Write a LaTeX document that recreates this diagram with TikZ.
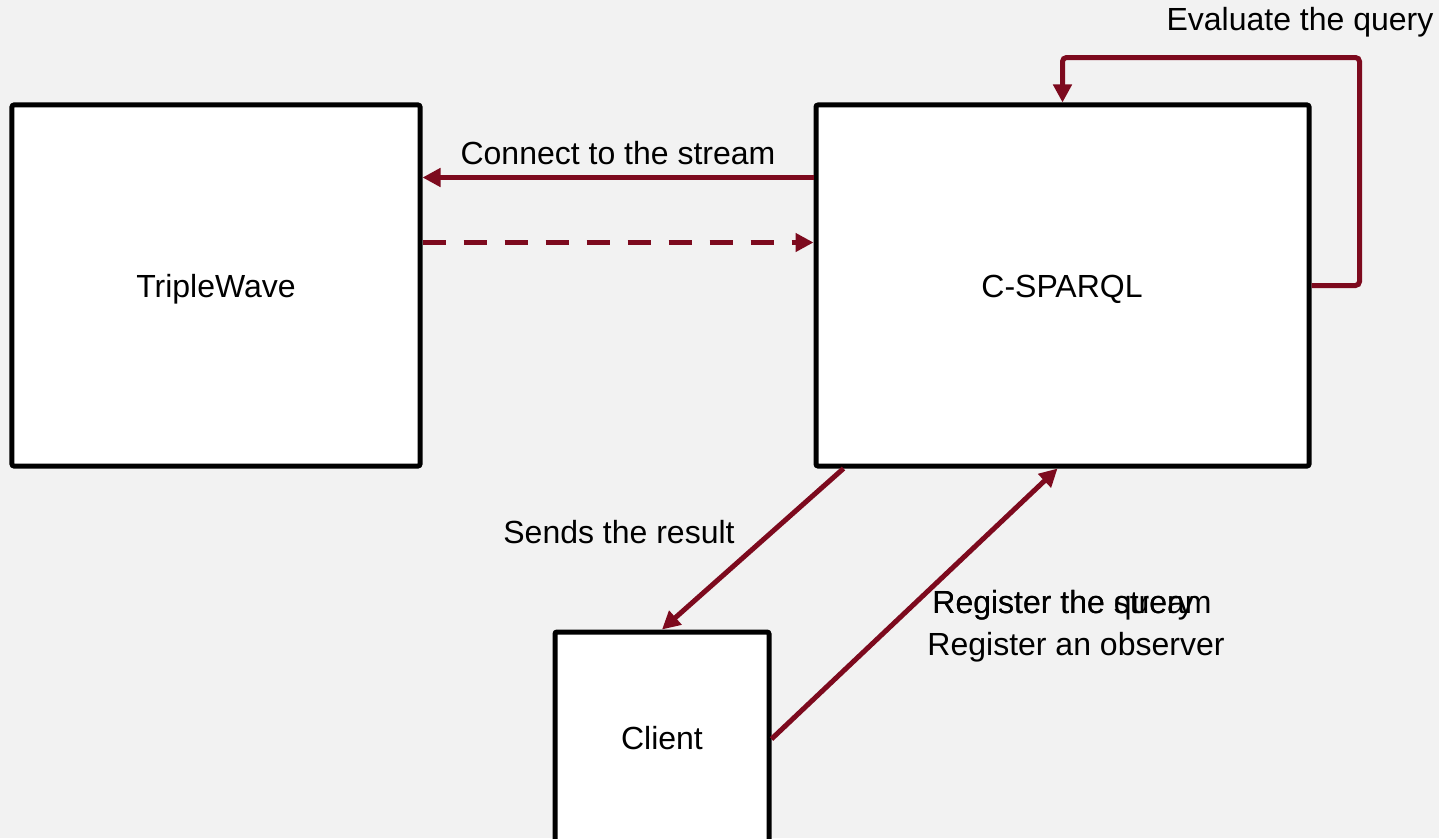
\documentclass[tikz,border=0pt]{standalone}
\usepackage{fontspec}
\setmainfont{Liberation Sans}
\usepackage{tikz}
\usetikzlibrary{arrows.meta,positioning,calc}
\definecolor{wine}{HTML}{7D0A1E}
\definecolor{paper}{HTML}{F2F2F2}

\begin{document}
\begin{tikzpicture}[
    x=0.5bp,y=-0.5bp,
    font=\fontsize{16bp}{19bp}\selectfont,
    block/.style={draw=black,fill=white,line width=2.5bp,rounded corners=1bp,inner sep=0pt},
    arrow/.style={-{Triangle[length=9bp,width=9bp]},line width=2.5bp,draw=wine},
    note/.style={inner sep=1bp}
  ]
    \fill[paper] (0,0) rectangle (1439,838);
    \useasboundingbox (0,0) rectangle (1439,838);
    \begin{scope}
    \clip (0,0) rectangle (1439,838);
    \node[block,minimum width=204bp,minimum height=180.5bp] (triplewave) at (216,285.5) {};
    \node[block,minimum width=246.5bp,minimum height=180.5bp] (csparql) at (1062.5,285.5) {};
    \node[block,minimum width=107bp,minimum height=107bp] (client) at (662,739) {};
    \end{scope}
    \node (triplewavelabel) at (216,289) {TripleWave};
    \node (csparqllabel) at (1062,289) {C-SPARQL};
    \node (clientlabel) at (662,738) {Client};
    % stream connection
    \draw[arrow] ($(csparql.north west)+(0,75)$) coordinate (c1) -- (c1 -| triplewave.east)
      node[midway,above=4bp,note] (connect) {Connect to the stream};
    \draw[arrow,dash pattern=on 11.5bp off 9bp] ($(triplewave.north east)+(0,140)$) coordinate (d1) -- (d1 -| csparql.west);
    % query loop
    \draw[arrow,rounded corners=2bp] (csparql.east) -- ++(48,0) -- ++(0,-228) -| (csparql.north);
    \node[note] (evaluate) at (1300,22) {Evaluate the query};
    % client
    \draw[arrow] ($(csparql.south west)+(30,0)$) -- (client.north);
    \draw[arrow] (client.east) -- ($(csparql.south west)+(244,0)$);
    \node[note] (sends) at (619,532) {Sends the result};
    \node[note,anchor=west] (regstream) at (930,605) {Register the stream};
    \node[note,anchor=west] (regquery) at (930,605) {Register the query};
    \node[note] (observer) at (1076,647) {Register an observer};
  \end{tikzpicture}
\end{document}
